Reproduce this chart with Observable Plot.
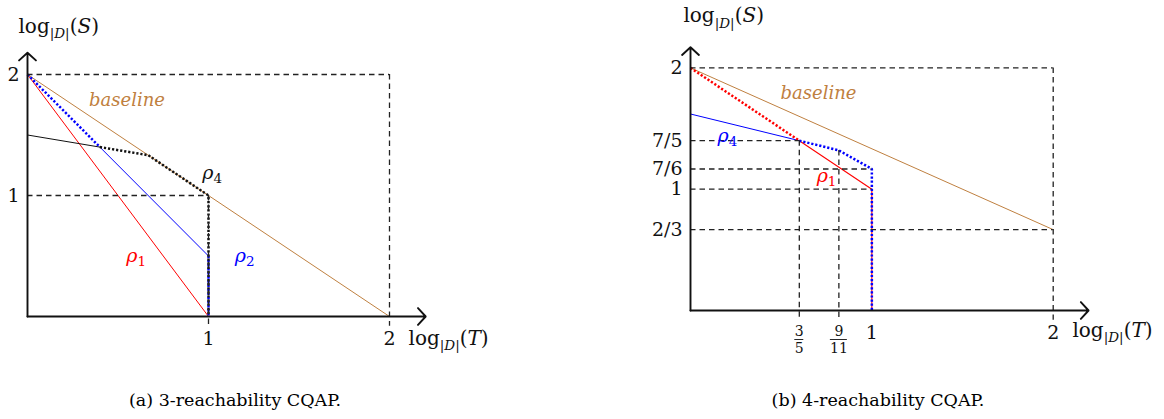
<!DOCTYPE html>
<html><head><meta charset="utf-8">
<script src="https://cdn.jsdelivr.net/npm/d3@7"></script>
<script src="https://cdn.jsdelivr.net/npm/@observablehq/plot@0.6"></script>
<style>
html,body{margin:0;padding:0;background:#fff;}
#root{position:relative;width:1164px;height:419px;overflow:hidden;font-family:"DejaVu Serif",serif;}
.panel{position:absolute;top:0;}
.cap{position:absolute;top:390px;font-size:17.5px;color:#000;white-space:nowrap;transform:translateX(-50%);font-family:"DejaVu Serif",serif;}
</style></head><body><div id="root"></div>
<script>
// ---------- data: panel (a) 3-reachability ----------
const leftBaseline   = [{t:0,s:2},{t:2,s:0}];
const leftRho1       = [{t:0,s:2},{t:1,s:0}];
const leftRho2Dotted = [{t:0,s:2},{t:0.4,s:1.4}];
const leftRho2Solid  = [{t:0.4,s:1.4},{t:1,s:0.5}];
const leftRho2Drop   = [{t:1,s:0.5},{t:1,s:0}];
const leftRho4Solid  = [{t:0,s:1.5},{t:0.4,s:1.4}];
const leftRho4Dotted = [{t:0.4,s:1.4},{t:2/3,s:4/3},{t:1,s:1},{t:1,s:0}];
const leftGuidesH    = [{t:2,s:2},{t:1,s:1}];
const leftGuidesV    = [{t:2,s:2},{t:1,s:1}];
const leftYTicks     = [{v:2,label:"2"},{v:1,label:"1"}];
const leftXTicks     = [{v:1,label:"1"},{v:2,label:"2"}];
const leftAxisEnds   = [{t1:0,s1:0,t2:2.2,s2:0},{t1:0,s1:0,t2:0,s2:2.18}];
const leftNotes      = [
  {key:"baseline",label:"baseline",t:0.55,s:1.785},
  {key:"rho4",label:"ρ4",t:1.02,s:1.19},
  {key:"rho1",label:"ρ1",t:0.6,s:0.5},
  {key:"rho2",label:"ρ2",t:1.2,s:0.5}
];
const leftAxisLabels = [
  {label:"log|D|(S)",t:-0.05,s:2.4},
  {label:"log|D|(T)",t:2.105,s:-0.18}
];

// ---------- data: panel (b) 4-reachability ----------
const rightBaseline   = [{t:0,s:2},{t:2,s:2/3}];
const rightRho1Dotted = [{t:0,s:2},{t:3/5,s:7/5}];
const rightRho1Solid  = [{t:3/5,s:7/5},{t:1,s:1},{t:1,s:0}];
const rightRho4Solid  = [{t:0,s:1.62},{t:3/5,s:7/5}];
const rightRho4Dotted = [{t:3/5,s:7/5},{t:9/11,s:1.32},{t:1,s:7/6},{t:1,s:0}];
const rightGuidesH    = [{t:2,s:2},{t:3/5,s:7/5},{t:1,s:7/6},{t:1,s:1},{t:2,s:2/3}];
const rightGuidesV    = [{t:2,s:2},{t:3/5,s:7/5},{t:9/11,s:1.32}];
const rightYTicks     = [{v:2,label:"2"},{v:7/5,label:"7/5"},{v:7/6,label:"7/6"},{v:1,label:"1"},{v:2/3,label:"2/3"}];
const rightXTicks     = [{v:1,label:"1"},{v:2,label:"2"}];
const rightFracTicks  = [{num:3,den:5},{num:9,den:11}];
const rightAxisEnds   = [{t1:0,s1:0,t2:2.195,s2:0},{t1:0,s1:0,t2:0,s2:2.17}];
const rightNotes      = [
  {key:"baseline",label:"baseline",t:0.706,s:1.79},
  {key:"rho4",label:"ρ4",t:0.204,s:1.443},
  {key:"rho1",label:"ρ1",t:0.75,s:1.113}
];
const rightAxisLabels = [
  {label:"log|D|(S)",t:-0.039,s:2.43},
  {label:"log|D|(T)",t:2.106,s:-0.165}
];

const captions = [
  {label:"(a) 3-reachability CQAP.", cx:235},
  {label:"(b) 4-reachability CQAP.", cx:878}
];

// ---------- styles ----------
const FONT = "'DejaVu Serif', serif";
const BROWN = "#bf8040", RED = "#ff0000", BLUE = "#0000ff", INK = "#111";
const leftNoteColor  = {baseline:BROWN, rho4:INK, rho1:RED, rho2:BLUE};
const rightNoteColor = {baseline:BROWN, rho4:BLUE, rho1:RED};
const overshoot = 0.08;
const dotted = {strokeWidth:2.5, strokeDasharray:"2.2,1.9", strokeLinecap:"butt"};
const dashed = {stroke:"#222", strokeWidth:1.3, strokeDasharray:"5.5,4"};
const FS = 19;
const LABEL_FS = 20;
const SUB_FS = 13.5;

function commonMarks(cfg){
  return [
    Plot.ruleY(cfg.guidesH, {y:"s", x1:0, x2:"t", ...dashed}),
    Plot.ruleX(cfg.guidesV, {x:"t", y1:"s", y2:-overshoot, ...dashed}),
    Plot.arrow(cfg.axisEnds, {x1:"t1", y1:"s1", x2:"t2", y2:"s2", stroke:INK, strokeWidth:1.9, headLength:9, headAngle:95}),
    Plot.text(cfg.yTicks, {x:0, y:"v", text:"label", dx:-8, textAnchor:"end", fontSize:FS, fill:INK}),
    Plot.text(cfg.xTicks, {x:"v", y:0, text:"label", dy:cfg.xTickDy, fontSize:FS, fill:INK}),
    Plot.text(cfg.axisLabels, {x:"t", y:"s", text:"label", textAnchor:"start", fontSize:LABEL_FS, fill:INK}),
    Plot.text(cfg.notes, {x:"t", y:"s", text:"label", fontSize:d=>d.key==="baseline"?18:FS, fill:d=>cfg.noteColor[d.key], fontStyle:"italic"})
  ];
}

function enrich(svg){
  d3.select(svg).selectAll("text").each(function(){
    const txt = this.textContent;
    const el = d3.select(this);
    let m = /^log\|D\|\((.)\)$/.exec(txt);
    if (m) {
      this.textContent = "";
      el.append("tspan").text("log");
      el.append("tspan").attr("dy", 5.5).attr("font-size", SUB_FS).text("|");
      el.append("tspan").attr("font-size", SUB_FS).attr("font-style","italic").text("D");
      el.append("tspan").attr("font-size", SUB_FS).text("|");
      el.append("tspan").attr("dy", -5.5).text("(");
      el.append("tspan").attr("font-style","italic").text(m[1]);
      el.append("tspan").text(")");
      return;
    }
    m = /^ρ(\d)$/.exec(txt);
    if (m) {
      this.textContent = "";
      el.append("tspan").attr("font-style","italic").text("ρ");
      el.append("tspan").attr("dy", 4).attr("font-size", SUB_FS).attr("font-style","normal").text(m[1]);
    }
  });
}

function panel(cfg){
  return Plot.plot({
    width: cfg.width, height: 360,
    x: {domain:[0,2], range:cfg.xRange, axis:null},
    y: {domain:[0,2], range:cfg.yRange, axis:null},
    style: {fontFamily: FONT, background:"transparent", overflow:"visible"},
    marks: cfg.marks.concat(commonMarks(cfg))
  });
}

const root = document.getElementById("root");

const left = panel({
  width: 580, xRange:[27,389], yRange:[316,74], xTickDy:22,
  guidesH:leftGuidesH, guidesV:leftGuidesV, axisEnds:leftAxisEnds,
  yTicks:leftYTicks, xTicks:leftXTicks, axisLabels:leftAxisLabels,
  notes:leftNotes, noteColor:leftNoteColor,
  marks: [
    Plot.line(leftBaseline, {x:"t", y:"s", stroke:BROWN, strokeWidth:1}),
    Plot.line(leftRho1, {x:"t", y:"s", stroke:RED, strokeWidth:1}),
    Plot.line(leftRho2Solid, {x:"t", y:"s", stroke:BLUE, strokeWidth:1}),
    Plot.line(leftRho4Solid, {x:"t", y:"s", stroke:INK, strokeWidth:1}),
    Plot.line(leftRho2Dotted, {x:"t", y:"s", stroke:BLUE, ...dotted}),
    Plot.line(leftRho2Drop, {x:"t", y:"s", stroke:BLUE, ...dotted}),
    Plot.line(leftRho4Dotted, {x:"t", y:"s", stroke:INK, ...dotted})
  ]
});
left.classList.add("panel");
left.style.left = "0px";
root.appendChild(left);

const right = panel({
  width: 564, xRange:[90,452.7], yRange:[310,67.4], xTickDy:22,
  guidesH:rightGuidesH, guidesV:rightGuidesV, axisEnds:rightAxisEnds,
  yTicks:rightYTicks, xTicks:rightXTicks, axisLabels:rightAxisLabels,
  notes:rightNotes, noteColor:rightNoteColor,
  marks: [
    Plot.line(rightBaseline, {x:"t", y:"s", stroke:BROWN, strokeWidth:1}),
    Plot.line(rightRho4Solid, {x:"t", y:"s", stroke:BLUE, strokeWidth:1}),
    Plot.line(rightRho1Solid, {x:"t", y:"s", stroke:RED, strokeWidth:1.1}),
    Plot.line(rightRho1Dotted, {x:"t", y:"s", stroke:RED, ...dotted}),
    Plot.line(rightRho4Dotted, {x:"t", y:"s", stroke:BLUE, ...dotted}),
    Plot.text(rightFracTicks, {x:d=>d.num/d.den, y:0, text:d=>String(d.num), dy:21.5, fontSize:14, fill:INK}),
    Plot.text(rightFracTicks, {x:d=>d.num/d.den, y:0, text:d=>String(d.den), dy:38, fontSize:14, fill:INK}),
    Plot.ruleY(rightFracTicks.slice(0,1), {x1:d=>d.num/d.den, x2:d=>d.num/d.den, y:0, dy:29, insetLeft:-4.5, insetRight:-4.5, stroke:INK, strokeWidth:0.9}),
    Plot.ruleY(rightFracTicks.slice(1,2), {x1:d=>d.num/d.den, x2:d=>d.num/d.den, y:0, dy:29, insetLeft:-8.5, insetRight:-8.5, stroke:INK, strokeWidth:0.9})
  ]
});
right.classList.add("panel");
right.style.left = "600px";
root.appendChild(right);

enrich(left);
enrich(right);

for (const c of captions) {
  const div = document.createElement("div");
  div.className = "cap";
  div.style.left = c.cx + "px";
  div.textContent = c.label;
  root.appendChild(div);
}
</script></body></html>
